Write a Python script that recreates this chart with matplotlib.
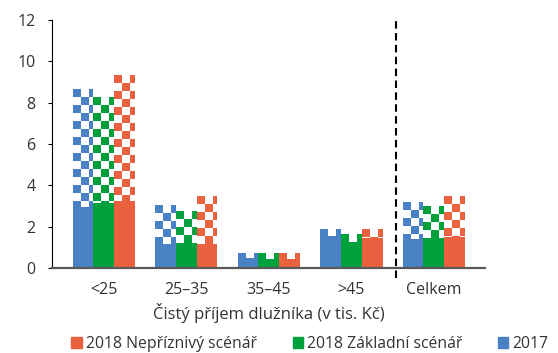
import numpy as np
import matplotlib
matplotlib.use("Agg")
import matplotlib.pyplot as plt
from matplotlib.patches import Patch, Rectangle
from matplotlib.collections import PatchCollection

plt.rcParams['font.family'] = ['Open Sans', 'DejaVu Sans']

categories = ['<25', '25–35', '35–45', '>45', 'Celkem']
series = ['2017', '2018 Základní scénář', '2018 Nepříznivý scénář']
colors = ['#4a80c4', '#00a13c', '#e9613f']

# solid part and total height (checkered part = total - solid)
solid = [
    [2.97, 1.16, 0.47, 1.55, 1.39],
    [3.16, 1.22, 0.44, 1.24, 1.44],
    [3.26, 1.15, 0.44, 1.47, 1.48],
]
total = [
    [8.65, 3.05, 0.71, 1.87, 3.21],
    [8.26, 2.77, 0.71, 1.63, 3.00],
    [9.34, 3.48, 0.71, 1.87, 3.48],
]

fig = plt.figure(figsize=(5.58, 3.53), dpi=100)
ax = fig.add_axes([0.0932, 0.2408, 0.776, 0.7025])

x = np.arange(len(categories))
w = 0.252
cw, ch = 0.097, 0.387  # checker cell size in data units (~8 px)

for i in range(3):
    pos = x + (i - 1) * w
    base = np.array(solid[i])
    top = np.array(total[i]) - base
    ax.bar(pos, base, w, color=colors[i], linewidth=0)
    bars = ax.bar(pos, top, w, bottom=base, color='white', linewidth=0)
    for b in bars:
        x0, y0 = b.get_x(), b.get_y()
        bw, bh = b.get_width(), b.get_height()
        nc = int(np.ceil(bw / cw))
        nr = int(np.ceil(bh / ch))
        ytop = y0 + bh
        cells = []
        for r in range(nr):
            for c in range(nc):
                if (r + c) % 2 == 0:
                    cells.append(Rectangle((x0 + c * cw, ytop - (r + 1) * ch), cw, ch))
        pc = PatchCollection(cells, facecolor=colors[i], edgecolor='none', zorder=2)
        ax.add_collection(pc)
        pc.set_clip_path(b)

ax.set_xlim(-0.627, 4.62)
ax.set_ylim(0, 12)
ax.set_yticks(np.arange(0, 13, 2))
ax.set_xticks(x)
ax.set_xticklabels(categories)
ax.tick_params(axis='x', length=0, pad=10, labelsize=11.5, labelcolor='#333333')
ax.tick_params(axis='y', length=3, width=0.8, pad=9, labelsize=11.5, labelcolor='#333333', color='black')
for s in ['top', 'right']:
    ax.spines[s].set_visible(False)
ax.spines['left'].set_linewidth(0.8)
ax.spines['bottom'].set_color('#595959')
ax.spines['bottom'].set_linewidth(1.6)
ax.spines['bottom'].set_zorder(5)

ax.plot([3.54, 3.54], [-0.5, 12.1], color='black', lw=1.5, ls=(0, (3.6, 2.1)),
        clip_on=False, zorder=6)

ax.set_xlabel('Čistý příjem dlužníka (v tis. Kč)', fontsize=12, color='#333333', labelpad=4)

handles = [Patch(color=colors[i]) for i in [2, 1, 0]]
labels = [series[i] for i in [2, 1, 0]]
fig.legend(handles, labels, loc='lower left', bbox_to_anchor=(0.128, 0.003), ncol=3,
           frameon=False, fontsize=11.3, handlelength=0.65, handleheight=0.65,
           handletextpad=0.25, columnspacing=2.3, borderpad=0, borderaxespad=0,
           labelcolor='#333333')

fig.savefig('out.png', dpi=100)
